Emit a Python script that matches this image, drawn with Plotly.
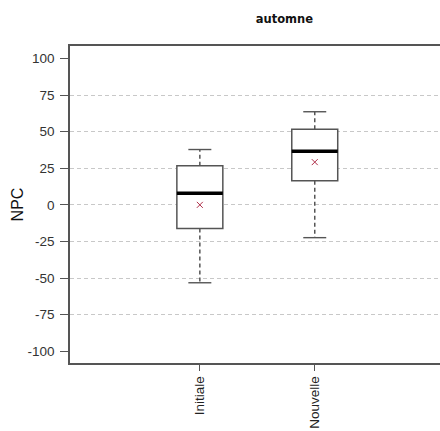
import plotly.graph_objects as go

categories = ["Initiale", "Nouvelle"]
q1 = [-16.1, 16.5]
median = [7.9, 36.7]
q3 = [26.7, 51.6]
lower_whisker = [-53.2, -22.4]
upper_whisker = [37.8, 63.6]
means = [0.0, 29.2]
y_ticks = [100, 75, 50, 25, 0, -25, -50, -75, -100]
y_tick_labels = ["100", "75", "50", "25", "0", "-25", "-50", "-75", "-100"]
grid_vals = [75, 50, 25, 0, -25, -50, -75]

pos = list(range(len(categories)))
BOX_HALF = 0.2
CAP_HALF = 0.1
LINE = "#555555"

fig = go.Figure()

for p, c in zip(pos, categories):
    i = p
    # dashed whiskers
    for a, b in ((q3[i], upper_whisker[i]), (q1[i], lower_whisker[i])):
        fig.add_trace(go.Scatter(x=[p, p], y=[a, b], mode="lines",
                                 line=dict(color=LINE, width=1.5, dash="4px,3px"),
                                 showlegend=False, hoverinfo="skip"))
    # caps
    for v in (upper_whisker[i], lower_whisker[i]):
        fig.add_trace(go.Scatter(x=[p - CAP_HALF, p + CAP_HALF], y=[v, v], mode="lines",
                                 line=dict(color=LINE, width=1.4),
                                 showlegend=False, hoverinfo="skip"))
    # box
    fig.add_trace(go.Box(x=[p], q1=[q1[i]], median=[median[i]], q3=[q3[i]],
                         lowerfence=[q1[i]], upperfence=[q3[i]],
                         width=2 * BOX_HALF, whiskerwidth=0,
                         fillcolor="white", line=dict(color=LINE, width=1.5),
                         boxpoints=False, name=c, showlegend=False))
    # thick median
    fig.add_trace(go.Scatter(x=[p - BOX_HALF, p + BOX_HALF], y=[median[i], median[i]],
                             mode="lines", line=dict(color="black", width=3.5),
                             showlegend=False, hoverinfo="skip"))
    # mean marker
    fig.add_trace(go.Scatter(x=[p], y=[means[i]], mode="markers",
                             marker=dict(symbol="x-thin", size=6,
                                         line=dict(color="#b0304a", width=1)),
                             showlegend=False, hoverinfo="skip"))

# dummy trace so yaxis2 is drawn
fig.add_trace(go.Scatter(x=[None], y=[None], yaxis="y2", showlegend=False, hoverinfo="skip"))

yr = [-108, 108.5]
fig.update_layout(
    width=440, height=431,
    margin=dict(l=70, r=0, t=46, b=68, autoexpand=False),
    paper_bgcolor="white", plot_bgcolor="white",
    font=dict(family="Liberation Sans, Arial, sans-serif", size=13.5, color="#333333"),
    title=dict(text="<b>automne</b>", x=(70 + 440) / 2 / 440, xanchor="center",
               xref="paper", y=1 - 19 / 431, yanchor="middle", yref="container",
               font=dict(family="DejaVu Sans, sans-serif", size=11.5, color="#111111")),
    xaxis=dict(range=[-1.13, 2.09], tickvals=pos, ticktext=categories, tickangle=-90,
               ticks="outside", ticklen=6, tickcolor=LINE, tickwidth=1.3,
               showline=True, linecolor=LINE, linewidth=1.5, mirror=True,
               showgrid=False, zeroline=False, automargin=False,
               tickfont=dict(size=13.5, color="#222222")),
    yaxis=dict(range=yr, tickvals=grid_vals, showticklabels=False, ticks="",
               showgrid=True, gridcolor="#c8c8c8", griddash="4px,3px", gridwidth=1,
               zeroline=False, showline=False, automargin=False),
    yaxis2=dict(range=yr, overlaying="y", side="left", tickvals=y_ticks,
                ticktext=y_tick_labels,
                ticks="outside", ticklen=8, tickcolor=LINE, tickwidth=1.3,
                showline=True, linecolor=LINE, linewidth=1.5, showgrid=False,
                zeroline=False, automargin=False, ticklabelstandoff=3,
                tickfont=dict(size=13.5, color="#333333"),
                title=dict(text="NPC", font=dict(size=16, color="#111111"), standoff=0)),
)

fig.write_html("out.html", config={"displayModeBar": False},
               post_script="document.body.style.margin='0px';")
